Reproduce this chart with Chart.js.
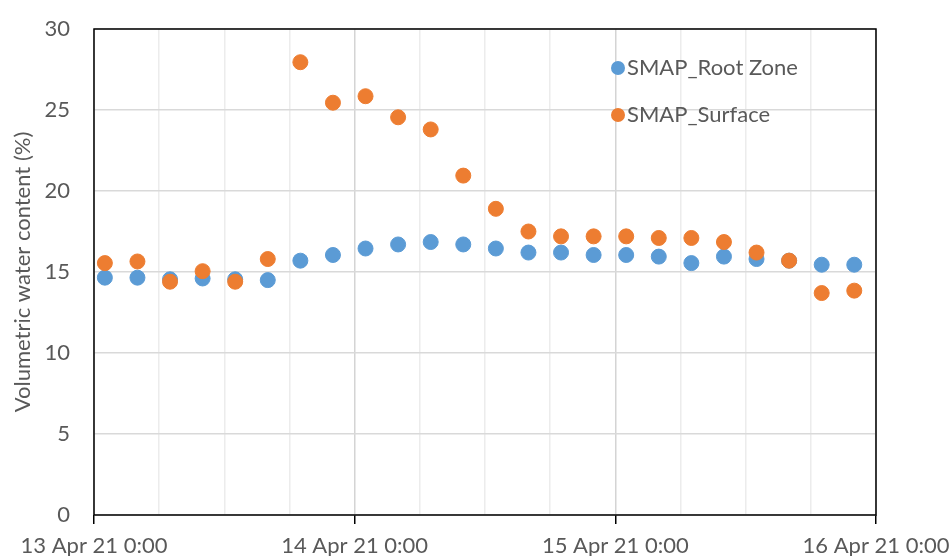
<!DOCTYPE html>
<html>
<head>
<meta charset="utf-8">
<script src="https://cdn.jsdelivr.net/npm/chart.js@4.4.0/dist/chart.umd.min.js"></script>
<style>
  html, body { margin: 0; padding: 0; background: #fff; }
  #wrap { width: 952px; height: 556px; }
</style>
</head>
<body>
<div id="wrap"><canvas id="smapChart" width="952" height="556"></canvas></div>
<script>
// heures depuis 13 Apr 21 0:00
const hours = [1, 4, 7, 10, 13, 16, 19, 22, 25, 28, 31, 34, 37, 40, 43, 46, 49, 52, 55, 58, 61, 64, 67, 70];
const rootZone = [14.65, 14.65, 14.55, 14.6, 14.55, 14.5, 15.7, 16.05, 16.45, 16.7, 16.85, 16.7, 16.45, 16.2, 16.2, 16.05, 16.05, 15.95, 15.55, 15.95, 15.8, 15.7, 15.45, 15.45];
const surface = [15.55, 15.65, 14.4, 15.05, 14.4, 15.8, 27.95, 25.45, 25.85, 24.55, 23.8, 20.95, 18.9, 17.5, 17.2, 17.2, 17.2, 17.1, 17.1, 16.85, 16.2, 15.7, 13.7, 13.85];
const dayTicks = [0, 24, 48, 72];
const dayLabels = ["13 Apr 21 0:00", "14 Apr 21 0:00", "15 Apr 21 0:00", "16 Apr 21 0:00"];
const seriesNames = ["SMAP_Root Zone", "SMAP_Surface"];
const yTicks = [0, 5, 10, 15, 20, 25, 30];

const FONT = "Lato, 'Open Sans', sans-serif";
const GREY = "#595959";
const BLUE = "#5B9BD5";
const ORANGE = "#ED7D31";

function toPoints(values) {
    return values.map((v, i) => ({ x: hours[i], y: v }));
}

// cadre + légende dans la zone du graphe
const framePlugin = {
    id: "frame",
    afterDraw(chart) {
        const { ctx, chartArea: a } = chart;
        ctx.save();
        ctx.strokeStyle = "#000";
        ctx.lineWidth = 1.5;
        ctx.strokeRect(a.left, a.top, a.right - a.left, a.bottom - a.top);

        const colors = [BLUE, ORANGE];
        ctx.font = "22px " + FONT;
        ctx.textBaseline = "middle";
        seriesNames.forEach((name, i) => {
            const x = a.right - 258;
            const y = a.top + 39 + i * 47;
            ctx.fillStyle = colors[i];
            ctx.beginPath();
            ctx.arc(x, y, 7, 0, Math.PI * 2);
            ctx.fill();
            ctx.fillStyle = GREY;
            ctx.fillText(name, x + 9, y);
        });
        ctx.restore();
    }
};

const ctx = document.getElementById("smapChart").getContext("2d");

new Chart(ctx, {
    type: "scatter",
    data: {
        datasets: [
            {
                label: seriesNames[0],
                data: toPoints(rootZone),
                backgroundColor: BLUE,
                borderColor: BLUE,
                pointRadius: 7.5,
                order: 1
            },
            {
                label: seriesNames[1],
                data: toPoints(surface),
                backgroundColor: ORANGE,
                borderColor: ORANGE,
                pointRadius: 7.5,
                order: 0
            }
        ]
    },
    options: {
        responsive: false,
        animation: false,
        layout: { padding: { top: 29, right: 76, left: 0, bottom: 0 } },
        plugins: {
            legend: { display: false },
            tooltip: { enabled: false }
        },
        scales: {
            x: {
                type: "linear",
                min: 0,
                max: 72,
                afterBuildTicks: function (scale) {
                    const t = [];
                    for (let h = 0; h <= 72; h += 6) t.push({ value: h });
                    scale.ticks = t;
                },
                afterFit: function (scale) {
                    scale.height = 41;
                    scale.paddingLeft = 0;
                    scale.paddingRight = 0;
                },
                border: { display: false },
                grid: {
                    color: function (c) {
                        const v = c.tick ? c.tick.value : 0;
                        return v % 24 === 0 ? "#d4d4d4" : "#ececec";
                    },
                    lineWidth: 1.5,
                    tickLength: 9,
                    tickColor: function (c) {
                        const v = c.tick ? c.tick.value : 0;
                        return v % 24 === 0 ? "#000" : "rgba(0,0,0,0)";
                    },
                    tickWidth: 1.5
                },
                ticks: {
                    autoSkip: false,
                    maxRotation: 0,
                    padding: 9,
                    color: GREY,
                    font: { family: FONT, size: 22 },
                    callback: function (value) {
                        const k = dayTicks.indexOf(value);
                        return k >= 0 ? dayLabels[k] : "";
                    }
                }
            },
            y: {
                min: 0,
                max: 30,
                afterBuildTicks: function (scale) {
                    scale.ticks = yTicks.map(v => ({ value: v }));
                },
                afterFit: function (scale) {
                    scale.width = 94;
                    scale.paddingTop = 0;
                    scale.paddingBottom = 0;
                },
                border: { display: false },
                grid: {
                    color: "#d9d9d9",
                    lineWidth: 1.5,
                    drawTicks: false
                },
                ticks: {
                    padding: 24,
                    color: GREY,
                    font: { family: FONT, size: 22 }
                },
                title: {
                    display: true,
                    text: "Volumetric water content (%)",
                    color: GREY,
                    font: { family: FONT, size: 22 },
                    padding: { top: 10, bottom: 0 }
                }
            }
        }
    },
    plugins: [framePlugin]
});
</script>
</body>
</html>
